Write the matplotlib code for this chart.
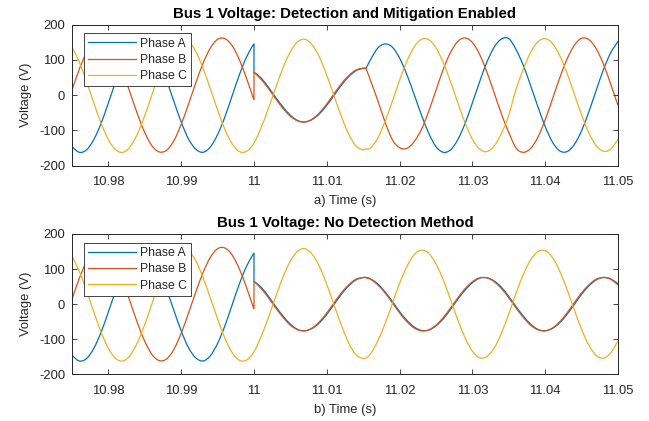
import numpy as np
import matplotlib
matplotlib.use('Agg')
import matplotlib.pyplot as plt
from matplotlib.path import Path
from matplotlib.patches import PathPatch
from matplotlib.lines import Line2D

# MATLAB-like look
plt.rcParams['font.family'] = ['Liberation Sans', 'DejaVu Sans']
plt.rcParams['axes.unicode_minus'] = False

# ---- data (values read off the reference, sampled every 1 ms) ----
# sample times: before the fault, during the fault, after the fault
t_pre = np.linspace(10.975, 11.0, 26)
t_fault = np.append(np.linspace(11.0, 11.015, 16), 11.0154)
t_post = np.linspace(11.016, 11.05, 35)

# before the fault (10.975 .. 11.000 s), same in both panels
phase_a_pre = [-146, -162, -155, -126, -80, -22, 38, 94, 136, 159, 160, 138, 97,
               42, -18, -76, -124, -153, -162, -147, -112, -62, -2, 58, 109, 146]
phase_b_pre = [14, 73, 121, 152, 162, 149, 115, 65, 6, -54, -106, -144, -161,
               -156, -129, -83, -26, 34, 90, 133, 158, 160, 140, 100, 46, -14]
phase_c_pre = [136, 94, 38, -22, -80, -126, -155, -162, -146, -109, -58, 2, 62,
               112, 147, 162, 153, 124, 76, 18, -42, -97, -138, -160, -159, -136]

# during the fault (11.000 .. 11.0154 s), same in both panels
phase_a_fault = [65, 48, 22, -7, -34, -57, -72, -76, -69, -53, -29, -1, 28, 52, 69, 76, 76]
phase_b_fault = [65, 44, 18, -11, -38, -60, -73, -76, -68, -50, -25, 4, 32, 55, 71, 76, 75]
phase_c_fault = [-136, -91, -37, 22, 78, 123, 151, 158, 142, 107, 56, -2, -60, -110,
                 -144, -155, -153]

# after 11.016 s with detection and mitigation
phase_a_mit = [100, 133, 145, 136, 105, 58, 2, -56, -108, -146, -162, -155, -126,
               -80, -22, 38, 94, 136, 159, 160, 129, 84, 27, -33, -89, -133, -158,
               -160, -140, -101, -47, 13, 72, 120, 152]
phase_b_mit = [42, -15, -76, -126, -149, -151, -132, -97, -46, 14, 73, 121, 152,
               162, 149, 115, 65, 6, -54, -106, -150, -162, -151, -119, -70, -11,
               49, 102, 141, 161, 157, 132, 88, 31, -29]
phase_c_mit = [-150, -122, -75, -18, 42, 96, 136, 158, 157, 134, 92, 38, -22, -79,
               -125, -153, -160, -144, -108, -57, 17, 74, 121, 151, 160, 146, 112,
               62, 3, -56, -107, -143, -159, -153, -125]

# after 11.016 s without detection
phase_a_nodet = [72, 58, 35, 8, -21, -46, -65, -75, -74, -62, -42, -15, 14, 40, 61,
                 74, 75, 66, 48, 22, -7, -34, -57, -72, -76, -69, -53, -29, -1, 28,
                 52, 69, 76, 72, 58]
phase_b_nodet = [71, 55, 32, 4, -25, -50, -68, -76, -73, -60, -38, -11, 18, 44, 64,
                 75, 75, 64, 44, 18, -11, -38, -60, -73, -76, -68, -50, -25, 4, 32,
                 55, 71, 76, 71, 55]
phase_c_nodet = [-142, -105, -56, 1, 59, 107, 141, 154, 145, 115, 69, 13, -45, -96,
                 -134, -153, -149, -125, -82, -28, 31, 85, 126, 150, 152, 133, 94, 42,
                 -16, -72, -117, -146, -154, -139, -105]

x_ticks = [10.98, 10.99, 11.0, 11.01, 11.02, 11.03, 11.04, 11.05]
x_tick_labels = ['10.98', '10.99', '11', '11.01', '11.02', '11.03', '11.04', '11.05']
y_ticks = [-200, -100, 0, 100, 200]
phase_names = ['Phase A', 'Phase B', 'Phase C']
phase_colors = ['#0072BD', '#D95319', '#EDB120']

t = np.concatenate([t_pre, t_fault, t_post])
junction = len(t_pre) + len(t_fault) - 1   # index of the 11.0154 s sample


def smooth_piece(x, y, verts, codes):
    # cubic Hermite curve through the samples (drawn by the renderer)
    x = np.asarray(x, float)
    y = np.asarray(y, float)
    n = len(x)
    d = np.empty(n)
    d[1:-1] = (y[2:] - y[:-2]) / (x[2:] - x[:-2])
    d[0] = (y[1] - y[0]) / (x[1] - x[0])
    d[-1] = (y[-1] - y[-2]) / (x[-1] - x[-2])
    if not verts:
        verts.append((x[0], y[0]))
        codes.append(Path.MOVETO)
    else:
        # straight step into this piece (voltage jump)
        verts.append((x[0], y[0]))
        codes.append(Path.LINETO)
    for i in range(n - 1):
        h = x[i + 1] - x[i]
        verts += [(x[i] + h / 3, y[i] + d[i] * h / 3),
                  (x[i + 1] - h / 3, y[i + 1] - d[i + 1] * h / 3),
                  (x[i + 1], y[i + 1])]
        codes += [Path.CURVE4] * 3


def draw_series(ax, values, color, kink):
    values = np.asarray(values, float)
    # split where the signal jumps (same time twice) or at a kink
    pieces = []
    xs, ys = [t[0]], [values[0]]
    for i in range(1, len(t)):
        if t[i] == t[i - 1]:
            if values[i] == values[i - 1]:
                continue
            pieces.append((xs, ys))
            xs, ys = [], []
        xs.append(t[i])
        ys.append(values[i])
        if kink and i == junction:
            pieces.append((xs, ys))
            xs, ys = [t[i]], [values[i]]
    pieces.append((xs, ys))
    verts, codes = [], []
    for xs, ys in pieces:
        smooth_piece(xs, ys, verts, codes)
    ax.add_patch(PathPatch(Path(verts, codes), fill=False, edgecolor=color,
                           lw=0.9, capstyle='butt', joinstyle='miter'))


def draw_panel(ax, series, title, xlabel, kink):
    handles = []
    for values, name, color, k in zip(series, phase_names, phase_colors, kink):
        draw_series(ax, values, color, k)
        handles.append(Line2D([], [], color=color, lw=0.9, label=name))
    ax.set_xlim(10.975, 11.05)
    ax.set_ylim(-200, 200)
    ax.set_xticks(x_ticks)
    ax.set_xticklabels(x_tick_labels)
    ax.set_yticks(y_ticks)
    ax.tick_params(direction='in', length=3.5, width=0.6, top=True, right=True,
                   colors='#262626', labelsize=9.4, pad=5)
    ax.tick_params(axis='x', pad=7.5)
    for s in ax.spines.values():
        s.set_color('#262626')
        s.set_linewidth(0.7)
    ax.set_title(title, fontsize=10.8, fontweight='bold', color='black', pad=5)
    ax.set_xlabel(xlabel, fontsize=9.4, color='#262626', labelpad=5)
    ax.set_ylabel('Voltage (V)', fontsize=9.4, color='#262626', labelpad=5)
    leg = ax.legend(handles=handles, loc='upper left', bbox_to_anchor=(0.022, 0.938),
                    borderaxespad=0, fontsize=8.8, handlelength=3.9,
                    handletextpad=0.3, labelspacing=0.35, borderpad=0.35,
                    fancybox=False, framealpha=1)
    leg.get_frame().set_edgecolor('#262626')
    leg.get_frame().set_linewidth(0.6)
    for txt in leg.get_texts():
        txt.set_color('#262626')


fig = plt.figure(figsize=(6.49, 4.21), dpi=100)
ax1 = fig.add_axes([0.1109, 0.6064, 0.8413, 0.3354])
ax2 = fig.add_axes([0.1109, 0.1109, 0.8413, 0.3333])

draw_panel(ax1,
           [phase_a_pre + phase_a_fault + phase_a_mit,
            phase_b_pre + phase_b_fault + phase_b_mit,
            phase_c_pre + phase_c_fault + phase_c_mit],
           'Bus 1 Voltage: Detection and Mitigation Enabled', 'a) Time (s)',
           [True, True, False])
draw_panel(ax2,
           [phase_a_pre + phase_a_fault + phase_a_nodet,
            phase_b_pre + phase_b_fault + phase_b_nodet,
            phase_c_pre + phase_c_fault + phase_c_nodet],
           'Bus 1 Voltage: No Detection Method', 'b) Time (s)',
           [False, False, False])

fig.savefig('out.png', dpi=100)
